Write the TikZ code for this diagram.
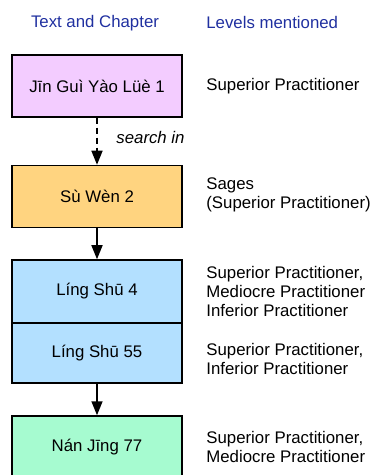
\documentclass[tikz,border=0pt]{standalone}
\usepackage{fontspec}
\setmainfont{Liberation Sans}
\usetikzlibrary{arrows.meta}

\definecolor{headblue}{RGB}{32,48,160}
\definecolor{jgpink}{RGB}{243,204,255}
\definecolor{swgold}{RGB}{255,212,128}
\definecolor{lsblue}{RGB}{179,224,255}
\definecolor{njgreen}{RGB}{166,251,208}

\begin{document}
\begin{tikzpicture}[x=.5pt,y=-.5pt,font=\fontsize{8.4}{9.5}\selectfont,
    box/.style={draw,line width=.75pt,minimum width=85pt,inner sep=0pt},
    lvl/.style={anchor=west,align=left,inner sep=0pt},
    head/.style={text=headblue,inner sep=0pt},
    flow/.style={-{Triangle[length=7pt,width=5.5pt]},line width=.75pt}]
  \useasboundingbox (0,0) rectangle (369,475);
  % column headings
  \node[head] (hText) at (95,23) {Text and Chapter};
  \node[head,anchor=west] (hLevel) at (206,23) {Levels mentioned};
  % the texts, top to bottom
  \node[box,fill=jgpink,minimum height=31pt] (jgyl) at (97,86) {Jīn Guì Yào Lüè 1};
  \node[box,fill=swgold,minimum height=31pt] (swen) at (97,196.5) {Sù Wèn 2};
  \node[box,fill=lsblue,minimum height=31.5pt] (ls4) at (97,291.5) {Líng Shū 4};
  \node[box,fill=lsblue,minimum height=30pt] (ls55) at (97,353) {Líng Shū 55};
  \node[box,fill=njgreen,minimum height=31pt] (nj77) at (97,447) {Nán Jīng 77};
  % levels
  \node[lvl] (lvJgyl) at (206,86) {Superior Practitioner};
  \node[lvl] (lvSwen) at (206,195) {Sages\\(Superior Practitioner)};
  \node[lvl] (lvLs4) at (206,291.5) {Superior Practitioner,\\Mediocre Practitioner\\Inferior Practitioner};
  \node[lvl] (lvLs55) at (206,358.5) {Superior Practitioner,\\Inferior Practitioner};
  \node[lvl] (lvNj77) at (206,446.5) {Superior Practitioner,\\Mediocre Practitioner};
  % arrows
  \draw[flow,dash pattern=on 3pt off 2pt] (jgyl) -- node[pos=.42,right=6pt,font=\fontsize{8.4}{9.5}\selectfont\itshape] (srch) {search in} (swen);
  \draw[flow] (swen) -- (ls4);
  \draw[flow] (ls55) -- (nj77);
\end{tikzpicture}
\end{document}
